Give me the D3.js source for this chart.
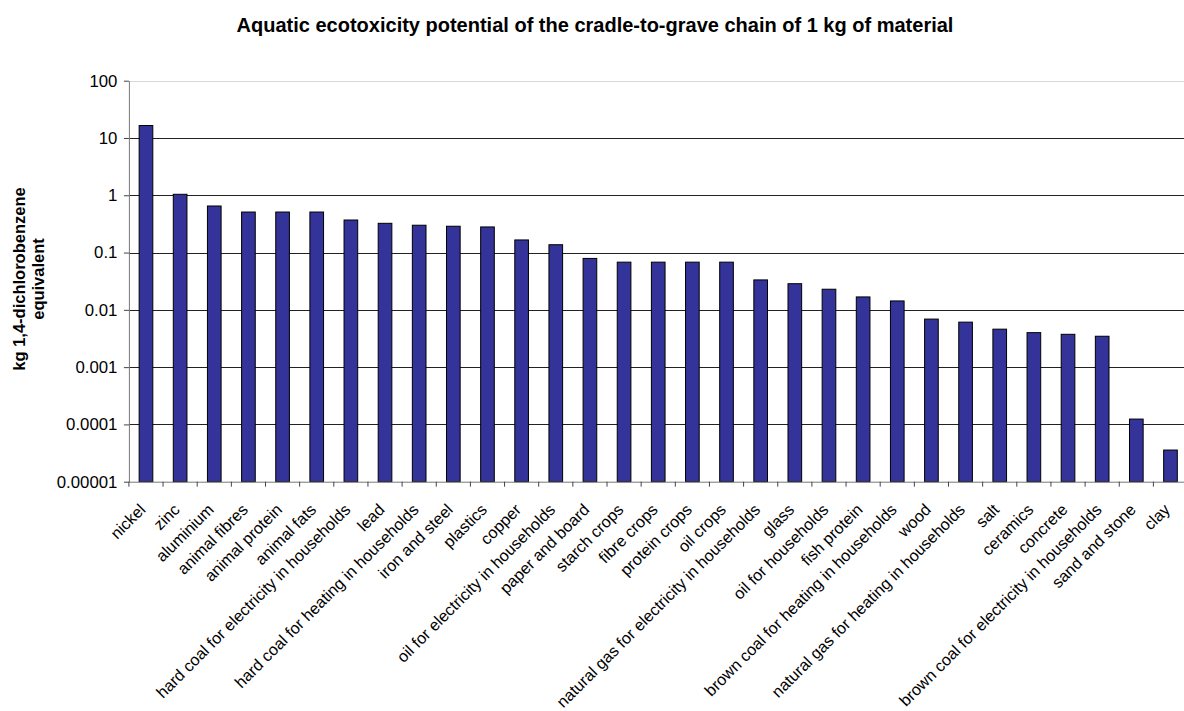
<!DOCTYPE html>
<html>
<head>
<meta charset="utf-8">
<script src="https://cdn.jsdelivr.net/npm/d3@7"></script>
<style>
  html, body { margin: 0; padding: 0; background: #fff; }
  svg { display: block; font-family: "Liberation Sans", Arial, sans-serif; }
</style>
</head>
<body>
<svg id="chart" width="1184" height="711"></svg>
<script>
// Materials, ordered by aquatic ecotoxicity potential
const categories = [
  "nickel", "zinc", "aluminium", "animal fibres", "animal protein", "animal fats",
  "hard coal for electricity in households", "lead",
  "hard coal for heating in households", "iron and steel", "plastics", "copper",
  "oil for electricity in households", "paper and board", "starch crops",
  "fibre crops", "protein crops", "oil crops",
  "natural gas for electricity in households", "glass", "oil for households",
  "fish protein", "brown coal for heating in households", "wood",
  "natural gas for heating in households", "salt", "ceramics", "concrete",
  "brown coal for electricity in households", "sand and stone", "clay"
];

// kg 1,4-dichlorobenzene equivalent per kg of material
const values = [
  16.5, 1.04, 0.65, 0.51, 0.51, 0.51,
  0.37, 0.324,
  0.30, 0.288, 0.28, 0.166,
  0.137, 0.079, 0.068,
  0.068, 0.068, 0.068,
  0.0333, 0.0286, 0.0229,
  0.0168, 0.0143, 0.0069,
  0.0061, 0.0046, 0.0040, 0.00374,
  0.00346, 0.000124, 0.0000357
];

const tickValues = [0.00001, 0.0001, 0.001, 0.01, 0.1, 1, 10, 100];
const tickLabels = ["0.00001", "0.0001", "0.001", "0.01", "0.1", "1", "10", "100"];

const titleText = "Aquatic ecotoxicity potential of the cradle-to-grave chain of 1 kg of material";
const yTitleLines = ["kg 1,4-dichlorobenzene", "equivalent"];

const svg = d3.select("#chart");

const plot = { left: 128.9, top: 80.7, bottom: 481.7, step: 34.15 };
plot.right = plot.left + plot.step * categories.length;

const x = d3.scaleBand()
  .domain(categories)
  .range([plot.left, plot.right])
  .paddingInner(0.6)
  .paddingOuter(0.3);

const y = d3.scaleLog()
  .domain([tickValues[0], tickValues[tickValues.length - 1]])
  .range([plot.bottom, plot.top]);

// Horizontal gridlines at each decade
svg.append("g")
  .selectAll("line")
  .data(tickValues.slice(1))
  .join("line")
  .attr("x1", plot.left)
  .attr("x2", plot.right)
  .attr("y1", d => Math.round(y(d)) + 0.5)
  .attr("y2", d => Math.round(y(d)) + 0.5)
  .attr("stroke", (d, i, a) => i === a.length - 1 ? "#d8d8d8" : "#222")
  .attr("stroke-width", 1);

// Bars
svg.append("g")
  .selectAll("rect")
  .data(categories.map((c, i) => ({ c, v: values[i] })))
  .join("rect")
  .attr("x", d => x(d.c))
  .attr("y", d => y(d.v))
  .attr("width", x.bandwidth())
  .attr("height", d => y(tickValues[0]) - y(d.v))
  .attr("fill", "#333399")
  .attr("stroke", "#000")
  .attr("stroke-width", 1);

// Y axis
const yAxis = d3.axisLeft(y)
  .tickValues(tickValues)
  .tickFormat((d, i) => tickLabels[i])
  .tickSizeInner(5)
  .tickSizeOuter(0)
  .tickPadding(6.5);

const gy = svg.append("g")
  .attr("transform", `translate(${plot.left},0)`)
  .call(yAxis);
gy.select(".domain").attr("stroke", "#777");
gy.selectAll(".tick line").attr("stroke", "#444");
gy.selectAll(".tick text")
  .attr("fill", "#000")
  .style("font-size", "16.8px")
  .style("font-family", "'Liberation Sans', Arial, sans-serif");

// X axis: ticks at category boundaries
const boundaries = d3.range(categories.length + 1).map(i => plot.left + i * plot.step);
svg.append("line")
  .attr("x1", plot.left).attr("x2", plot.right)
  .attr("y1", plot.bottom + 0.5).attr("y2", plot.bottom + 0.5)
  .attr("stroke", "#777");
svg.append("g")
  .selectAll("line")
  .data(boundaries)
  .join("line")
  .attr("x1", d => d).attr("x2", d => d)
  .attr("y1", plot.bottom).attr("y2", plot.bottom + 5)
  .attr("stroke", "#444");

// Rotated category labels
svg.append("g")
  .selectAll("text")
  .data(categories)
  .join("text")
  .attr("transform", d => `translate(${x(d) + x.bandwidth() / 2 + 0.5},${plot.bottom + 29}) rotate(-45)`)
  .attr("text-anchor", "end")
  .style("font-size", "16.2px")
  .attr("fill", "#000")
  .text(d => d);

// Title
svg.append("text")
  .attr("x", 595)
  .attr("y", 31.5)
  .attr("text-anchor", "middle")
  .style("font-size", "20px")
  .style("font-weight", "bold")
  .text(titleText);

// Y axis title (two lines, rotated)
const yt = svg.append("text")
  .attr("transform", "translate(0,279) rotate(-90)")
  .attr("text-anchor", "middle")
  .style("font-size", "16.5px")
  .style("font-weight", "bold");
yt.selectAll("tspan")
  .data(yTitleLines)
  .join("tspan")
  .attr("x", 0)
  .attr("y", (d, i) => 24.5 + i * 19.5)
  .text(d => d);
</script>
</body>
</html>
